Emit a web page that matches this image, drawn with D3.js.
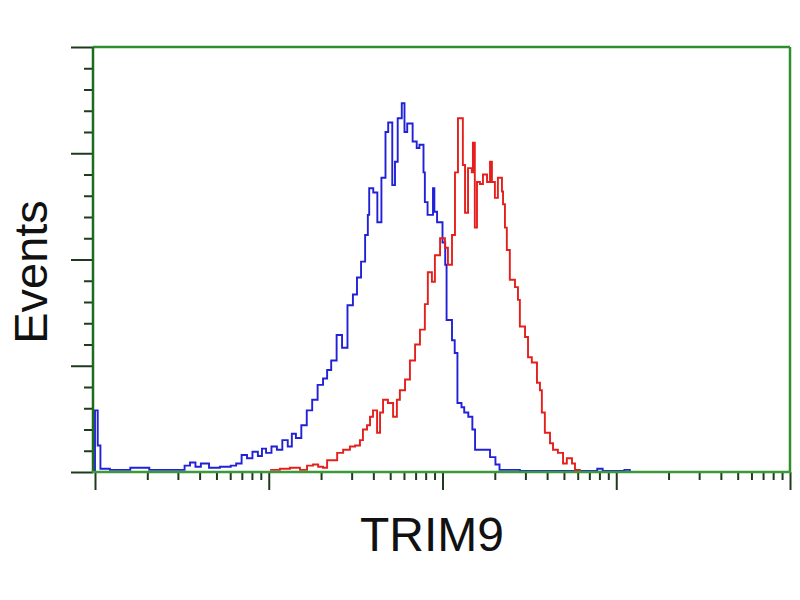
<!DOCTYPE html>
<html>
<head>
<meta charset="utf-8">
<script src="https://cdn.jsdelivr.net/npm/d3@7"></script>
<style>
  body { margin: 0; background: #fff; }
  text { font-family: "Liberation Sans", Arial, sans-serif; fill: #111; }
</style>
</head>
<body>
<script>
const w = 800
const h = 600

// Histogram channels (256 channels over 4 decades) and event counts
const blueChannels = [0, 0, 1, 2, 5.5, 13, 20, 28, 33, 35, 37, 39, 42, 46, 50, 52, 54, 56, 58, 60, 61.5, 63, 65, 67, 69, 71, 72.5, 74, 76, 78, 80, 82, 84, 85.5, 87, 89, 91, 93, 95, 96.5, 98, 99.5, 100.5, 101, 102.5, 104, 105.5, 107, 108, 109.5, 110.5, 111.5, 113, 114, 115, 117, 118.5, 119.5, 121, 121.5, 122.5, 124.5, 125, 126, 128, 129, 129.5, 131.5, 132.5, 133.5, 135, 136, 137.5, 139, 140, 142, 144.5, 145.5, 147.5, 149, 153, 156.5, 185, 187, 195, 197, 203]
const blueCounts = [0, 58, 25, 3, 2, 4, 2, 2, 6, 9, 5, 8, 4, 5, 6, 8, 16, 13, 19, 15, 22, 18, 24, 21, 30, 24, 36, 32, 44, 58, 68, 82, 88, 96, 105, 129, 117, 157, 167, 183, 198, 223, 242, 267, 263, 235, 277, 320, 329, 270, 292, 333, 347, 320, 328, 311, 305, 308, 282, 254, 242, 267, 245, 235, 216, 195, 143, 124, 112, 65, 61, 56, 52, 40, 21, 21, 21, 14, 7, 2, 2, 1, 3, 1, 2, 0, 0]

const redChannels = [64.5, 68.1, 71.8, 75.5, 78.1, 80.3, 82.2, 84, 85.5, 87.7, 89.2, 91.4, 93.9, 95.8, 97.6, 98.7, 100.2, 101.3, 102.4, 103.9, 105, 106.1, 107.9, 109.8, 111.2, 112.3, 114.2, 116, 117.9, 119.7, 121.5, 122.6, 124.1, 125.2, 127.1, 128.9, 130, 131.5, 132.6, 133.7, 135.2, 135.5, 136.3, 137.4, 138.8, 139.2, 139.9, 140.7, 141.8, 142.9, 144.4, 145.5, 146.2, 147.3, 148.4, 149.9, 150.3, 151, 151.7, 152.8, 154.7, 155.8, 156.5, 158.4, 159.5, 160.9, 162.8, 163.9, 164.6, 165.7, 167.6, 168.7, 170.5, 172.4, 173.8, 175.7, 176.8, 178.6]
const redCounts = [2, 3, 4, 2, 6, 7, 5, 4, 11, 11, 18, 21, 24, 25, 30, 40, 44, 52, 58, 37, 56, 68, 65, 52, 68, 77, 87, 105, 120, 134, 158, 188, 179, 204, 220, 211, 195, 223, 282, 333, 333, 289, 244, 286, 282, 310, 230, 273, 271, 280, 273, 292, 273, 258, 277, 264, 252, 230, 209, 181, 174, 162, 137, 127, 108, 103, 84, 77, 56, 37, 27, 21, 18, 8, 13, 8, 2, 0]

const xDecades = [1, 10, 100, 1000, 10000]
const yMajor = [0, 100, 200, 300, 400]

const plotLeft = 95, plotRight = 790, plotTop = 47, plotBottom = 472

const chToValue = ch => Math.pow(10, ch * 4 / 256)

const x = d3.scaleLog().domain([1, 10000]).range([plotLeft, plotRight])
const y = d3.scaleLinear().domain([0, 400]).range([plotBottom, plotTop])

const svg = d3.select("body")
              .append("svg")
              .attr("width", w)
              .attr("height", h)

// Frame (top and right)
svg.append("line")
   .attr("x1", plotLeft - 2).attr("x2", plotRight)
   .attr("y1", plotTop).attr("y2", plotTop)
   .attr("stroke", "#2f8f2f").attr("stroke-width", 2.5)
svg.append("line")
   .attr("x1", plotRight).attr("x2", plotRight)
   .attr("y1", plotTop).attr("y2", plotBottom)
   .attr("stroke", "#2f8f2f").attr("stroke-width", 2.5)

// Histogram lines
const line = d3.line()
               .x(d => x(chToValue(d[0])))
               .y(d => y(d[1]))
               .curve(d3.curveStepAfter)

svg.append("path")
   .datum(blueChannels.map((c, i) => [c, blueCounts[i]]))
   .attr("fill", "none")
   .attr("stroke", "#2121d8")
   .attr("stroke-width", 1.9)
   .attr("d", line)

svg.append("path")
   .datum(redChannels.map((c, i) => [c, redCounts[i]]))
   .attr("fill", "none")
   .attr("stroke", "#e5201c")
   .attr("stroke-width", 1.9)
   .attr("d", line)

// Y axis: major and minor ticks
const yMinor = d3.range(0, 401, 20).filter(v => v % 100 !== 0)
const yAxisMajor = d3.axisLeft(y).tickValues(yMajor).tickSize(22).tickFormat("")
const yAxisMinor = d3.axisLeft(y).tickValues(yMinor).tickSize(9).tickFormat("")

const gy = svg.append("g").attr("transform", `translate(${plotLeft - 2}, 0)`)
gy.call(yAxisMajor)
gy.append("g").call(yAxisMinor)
gy.selectAll(".domain").remove()
gy.selectAll("line").attr("stroke", "#1f3a1f").attr("stroke-width", 2)
gy.append("line")
  .attr("y1", plotTop).attr("y2", plotBottom + 1)
  .attr("stroke", "#1e6b1e").attr("stroke-width", 2.5)

// X axis: log decades and minor ticks
const xMinor = []
xDecades.slice(0, -1).forEach(d => {
  for (let k = 2; k <= 9; k++) xMinor.push(d * k)
})
const xAxisMajor = d3.axisBottom(x).tickValues(xDecades).tickSize(18).tickFormat("")
const xAxisMinor = d3.axisBottom(x).tickValues(xMinor).tickSize(8).tickFormat("")

const gx = svg.append("g").attr("transform", `translate(0, ${plotBottom})`)
gx.call(xAxisMajor)
gx.append("g").call(xAxisMinor)
gx.selectAll(".domain").remove()
gx.selectAll("line").attr("stroke", "#1f3a1f").attr("stroke-width", 2)
gx.append("line")
  .attr("x1", plotLeft - 3).attr("x2", plotRight + 1)
  .attr("stroke", "#3a9a3a").attr("stroke-width", 2.5)

// Axis labels
svg.append("text")
   .attr("x", 432).attr("y", 551)
   .attr("text-anchor", "middle")
   .style("font-size", "48px")
   .text("TRIM9")

svg.append("text")
   .attr("transform", "translate(47, 272) rotate(-90)")
   .attr("text-anchor", "middle")
   .style("font-size", "47px")
   .text("Events")
</script>
</body>
</html>
